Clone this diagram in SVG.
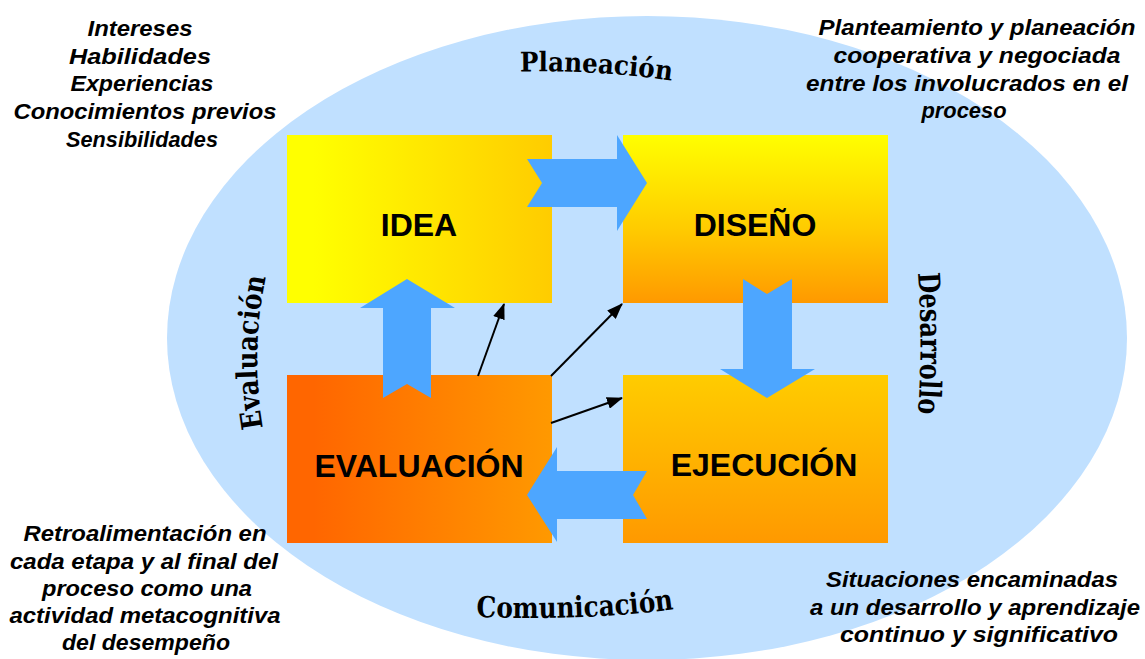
<svg xmlns="http://www.w3.org/2000/svg" width="1145" height="659" viewBox="0 0 1145 659">
<style>
.box{stroke:none}
.lbl{font-family:"Liberation Sans",Arial,sans-serif;font-weight:bold;font-size:32px;fill:#000;text-anchor:middle}
.note{font-family:"Liberation Sans",Arial,sans-serif;font-weight:bold;font-style:italic;font-size:22px;fill:#000;text-anchor:middle}
.art{font-family:"DejaVu Serif","Liberation Serif",serif;font-weight:bold;fill:#000}
.big{fill:#4DA6FF}
.thin{stroke:#000;stroke-width:2;fill:none;marker-end:url(#ah)}
</style>
<defs>
<linearGradient id="gIdea" x1="0" y1="0" x2="1" y2="0"><stop offset="0.1" stop-color="#FFFF00"/><stop offset="1" stop-color="#FFCC00"/></linearGradient>
<linearGradient id="gDis" x1="0" y1="0" x2="0" y2="1"><stop offset="0" stop-color="#FFFF00"/><stop offset="0.55" stop-color="#FFCC00"/><stop offset="1" stop-color="#FF9900"/></linearGradient>
<linearGradient id="gEva" x1="0" y1="0" x2="1" y2="0"><stop offset="0.1" stop-color="#FF6600"/><stop offset="1" stop-color="#FF9900"/></linearGradient>
<linearGradient id="gEje" x1="0" y1="0" x2="0" y2="1"><stop offset="0" stop-color="#FFCC00"/><stop offset="1" stop-color="#FF9900"/></linearGradient>
<marker id="ah" markerUnits="userSpaceOnUse" markerWidth="16" markerHeight="12" refX="15" refY="6" orient="auto"><path d="M0,0 L16,6 L0,12 z" fill="#000"/></marker>
<path id="pPlan" d="M 520 71.5 Q 600 70 674 81"/>
<path id="pDes" d="M 918 273 Q 923 343 918 414"/>
<path id="pEva" d="M 263 428 Q 250 352 266 276"/>
<path id="pCom" d="M 476 617 Q 590 621 675 609"/>
</defs>
<rect width="1145" height="659" fill="#fff"/>
<ellipse id="cycle" cx="647" cy="338" rx="480" ry="322" fill="#C0E0FF"/>

<g id="arcLabels">
<text class="art" font-size="27"><textPath href="#pPlan" textLength="152" lengthAdjust="spacingAndGlyphs">Planeación</textPath></text>
<text class="art" font-size="30"><textPath href="#pDes" textLength="141" lengthAdjust="spacingAndGlyphs">Desarrollo</textPath></text>
<text class="art" font-size="29"><textPath href="#pEva" textLength="152" lengthAdjust="spacingAndGlyphs">Evaluación</textPath></text>
<text class="art" font-size="29"><textPath href="#pCom" textLength="198" lengthAdjust="spacingAndGlyphs">Comunicación</textPath></text>
</g>

<g id="idea"><rect class="box" x="287" y="135" width="265" height="168" fill="url(#gIdea)"/><text class="lbl" x="419" y="236">IDEA</text></g>
<g id="diseno"><rect class="box" x="623" y="135" width="265" height="168" fill="url(#gDis)"/><text class="lbl" x="755" y="236">DISEÑO</text></g>
<g id="evaluacion"><rect class="box" x="287" y="375" width="265" height="168" fill="url(#gEva)"/><text class="lbl" x="419" y="477">EVALUACIÓN</text></g>
<g id="ejecucion"><rect class="box" x="623" y="375" width="265" height="168" fill="url(#gEje)"/><text class="lbl" x="764" y="476">EJECUCIÓN</text></g>

<g id="connectors">
<polygon class="big" points="527,159 617,159 617,135 647,183 617,231 617,207 527,207 542,183"/>
<polygon class="big" points="743,279 767,294 792,279 792,369 815,369 767,398 720,369 743,369"/>
<polygon class="big" points="647,471 557,471 557,447 527,495 557,542 557,519 647,519 633,495"/>
<polygon class="big" points="383,398 407,384 431,398 431,308 455,308 407,279 360,308 383,308"/>
<line class="thin" x1="478" y1="376" x2="504" y2="304"/>
<line class="thin" x1="551" y1="376" x2="622" y2="304"/>
<line class="thin" x1="551" y1="423" x2="622" y2="398"/>
</g>

<g id="notes">
<text class="note"><tspan x="140" y="36" textLength="105" lengthAdjust="spacingAndGlyphs">Intereses</tspan><tspan x="140" y="64" textLength="142" lengthAdjust="spacingAndGlyphs">Habilidades</tspan><tspan x="142" y="91" textLength="143" lengthAdjust="spacingAndGlyphs">Experiencias</tspan><tspan x="145" y="119" textLength="263" lengthAdjust="spacingAndGlyphs">Conocimientos previos</tspan><tspan x="142" y="147" textLength="152" lengthAdjust="spacingAndGlyphs">Sensibilidades</tspan></text>
<text class="note"><tspan x="977" y="35" textLength="317" lengthAdjust="spacingAndGlyphs">Planteamiento y planeación</tspan><tspan x="977" y="63" textLength="287" lengthAdjust="spacingAndGlyphs">cooperativa y negociada</tspan><tspan x="967" y="91" textLength="322" lengthAdjust="spacingAndGlyphs">entre los involucrados en el</tspan><tspan x="964" y="118" textLength="85" lengthAdjust="spacingAndGlyphs">proceso</tspan></text>
<text class="note"><tspan x="145" y="541" textLength="243" lengthAdjust="spacingAndGlyphs">Retroalimentación en</tspan><tspan x="144" y="569" textLength="268" lengthAdjust="spacingAndGlyphs">cada etapa y al final del</tspan><tspan x="147" y="596" textLength="210" lengthAdjust="spacingAndGlyphs">proceso como una</tspan><tspan x="145" y="623" textLength="271" lengthAdjust="spacingAndGlyphs">actividad metacognitiva</tspan><tspan x="146" y="650" textLength="168" lengthAdjust="spacingAndGlyphs">del desempeño</tspan></text>
<text class="note"><tspan x="972" y="587" textLength="292" lengthAdjust="spacingAndGlyphs">Situaciones encaminadas</tspan><tspan x="975" y="615" textLength="330" lengthAdjust="spacingAndGlyphs">a un desarrollo y aprendizaje</tspan><tspan x="979" y="642" textLength="278" lengthAdjust="spacingAndGlyphs">continuo y significativo</tspan></text>
</g>
</svg>
